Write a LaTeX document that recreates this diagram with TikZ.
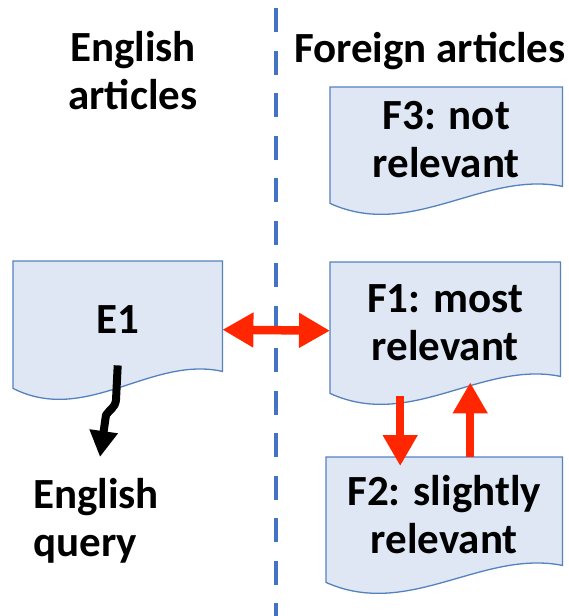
\documentclass[tikz,border=0pt]{standalone}
\usepackage{fontspec}
\setmainfont{Carlito}
\usetikzlibrary{arrows.meta,calc,backgrounds}

\definecolor{docfill}{RGB}{222,231,243}
\definecolor{docedge}{RGB}{84,130,190}
\definecolor{sepblue}{RGB}{68,114,196}
\definecolor{linkred}{RGB}{255,38,0}

\tikzset{
  lbl/.style={font=\fontsize{43}{48}\selectfont\bfseries, inner sep=0pt, align=center},
  docbox/.style={lbl, draw=none, anchor=north west, text depth=11pt},
  docline/.style={draw=docedge, fill=docfill, line width=1.3pt},
  sepline/.style={draw=sepblue, line width=4.5pt, dash pattern=on 24pt off 18.5pt, dash phase=34.5pt},
  redlink/.style={draw=linkred, line width=8.5pt},
  redhead/.tip={Triangle[length=31pt,width=33pt]},
  querylink/.style={draw=black, line width=8pt, line join=round,
    -{Triangle[length=26pt,width=27pt]}},
}

% document shape with a wavy lower edge, drawn behind a node
\newcommand\docwave[1]{%
  \begin{pgfonlayer}{background}
    \path[docline] (#1.north west) -- (#1.north east) -- ([yshift=17pt]#1.south east)
      .. controls ($(#1.south west)!0.66!(#1.south east)+(0,33pt)$)
             and ($(#1.south west)!0.35!(#1.south east)+(0,-37pt)$) .. (#1.south west) -- cycle;
  \end{pgfonlayer}}

\begin{document}
\begin{tikzpicture}[x=1pt,y=-1pt]
  \useasboundingbox (0,0) rectangle (569,616);

  % column separator
  \draw[sepline] (276,0) -- (276,616);

  % column headings
  \node[lbl] (hEn) at (133,71) {English\\articles};
  \node[lbl, anchor=base] (hFo) at (430,62) {Foreign articles};

  % articles
  \node[docbox, minimum width=209pt, minimum height=127pt] (E1) at (13,261) {E1};
  \node[docbox, minimum width=232pt, minimum height=116pt] (F3) at (330,87) {F3: not\\relevant};
  \node[docbox, minimum width=230pt, minimum height=131pt] (F1) at (330,262) {F1: most\\relevant};
  \node[docbox, minimum width=236pt, minimum height=125pt] (F2) at (326,457) {F2: slightly\\relevant};
  \docwave{E1}\docwave{F3}\docwave{F1}\docwave{F2}

  % query
  \node[lbl, align=left, anchor=north west] (Q) at (33,478) {English\\query};
  \coordinate (qtip) at (100,457);

  % links
  \draw[redlink, {redhead}-{redhead}] ([yshift=-5pt]E1.east) -- ([yshift=-3pt]F1.west);
  \draw[redlink, -{redhead}] ([xshift=-45pt,yshift=-3pt]F1.south) -- ([xshift=-44pt,yshift=-9pt]F2.north);
  \draw[redlink, -{redhead}] ([xshift=26pt]F2.north) -- ([xshift=25pt,yshift=11pt]F1.south);
  \draw[querylink] ([yshift=23pt]E1.south) -- (116,400)
    .. controls (115,408) and (110,409) .. (106,415) -- (qtip);
\end{tikzpicture}
\end{document}
